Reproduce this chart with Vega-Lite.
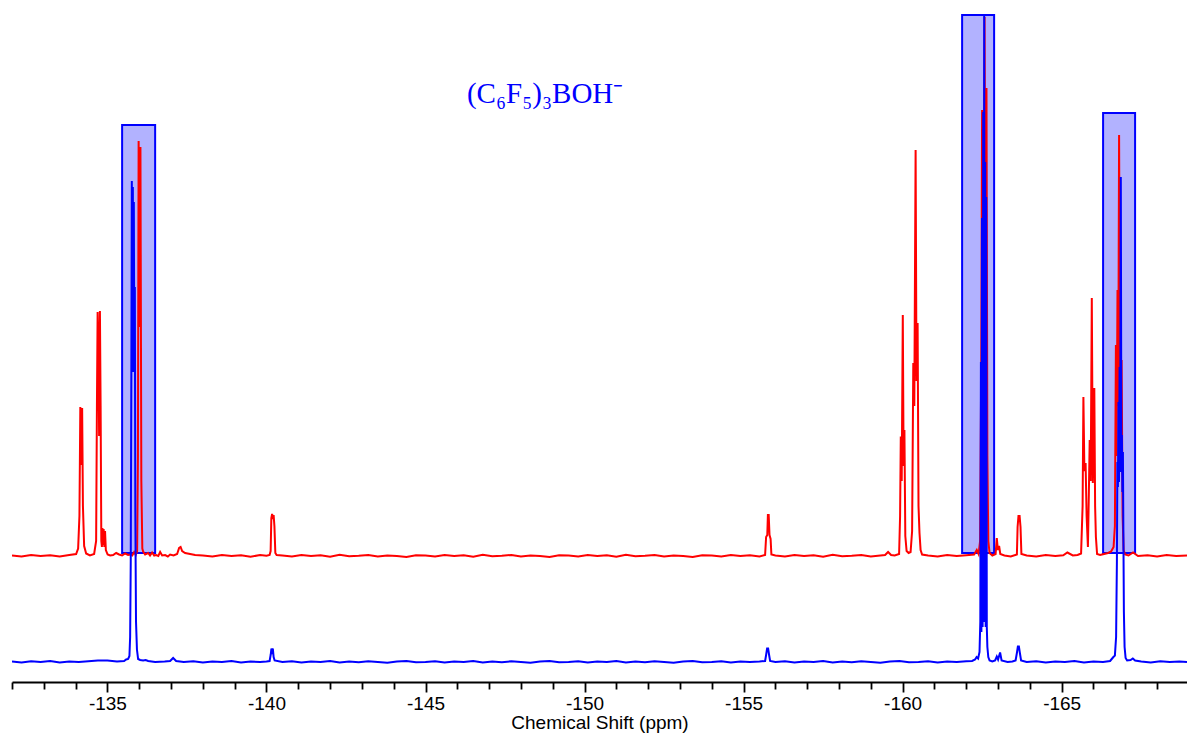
{
  "$schema": "https://vega.github.io/schema/vega-lite/v6.json",
  "width": 1175,
  "height": 682,
  "autosize": {"type": "none"},
  "padding": {"left": 12, "top": 0, "right": 0, "bottom": 58},
  "background": "white",
  "config": {"view": {"stroke": null}, "font": "Liberation Sans"},
  "datasets": {
    "boxes": [
      {"x1": -135.462, "x2": -136.5, "y1": 0.6, "y2": 86.2},
      {"x1": -161.87, "x2": -162.876, "y1": 0.6, "y2": 108.2},
      {"x1": -166.302, "x2": -167.308, "y1": 0.6, "y2": 88.6}
    ],
    "note": [
      {"ppm": -148.76, "v": 90.6, "label": "(C₆F₅)₃BOH⁻"}
    ],
    "red": [
      {"ppm": -132.0, "v": 0.1}, {"ppm": -132.3, "v": -0.1}, {"ppm": -132.6, "v": 0.2}, {"ppm": -132.9, "v": 0.0},
      {"ppm": -133.2, "v": 0.15}, {"ppm": -133.5, "v": -0.1}, {"ppm": -133.8, "v": 0.2},
      {"ppm": -134.016, "v": 0.4}, {"ppm": -134.079, "v": 1.5}, {"ppm": -134.12, "v": 8}, {"ppm": -134.148, "v": 29.8},
      {"ppm": -134.17, "v": 22}, {"ppm": -134.18, "v": 18.2}, {"ppm": -134.192, "v": 25}, {"ppm": -134.205, "v": 29.6},
      {"ppm": -134.23, "v": 10}, {"ppm": -134.268, "v": 2}, {"ppm": -134.331, "v": 0.5}, {"ppm": -134.45, "v": 0.1},
      {"ppm": -134.582, "v": 0.4}, {"ppm": -134.645, "v": 3}, {"ppm": -134.67, "v": 30}, {"ppm": -134.692, "v": 48.8},
      {"ppm": -134.72, "v": 40}, {"ppm": -134.739, "v": 24}, {"ppm": -134.764, "v": 49}, {"ppm": -134.786, "v": 30},
      {"ppm": -134.808, "v": 3}, {"ppm": -134.827, "v": 1.8}, {"ppm": -134.843, "v": 5.6}, {"ppm": -134.859, "v": 2.2},
      {"ppm": -134.881, "v": 5.4}, {"ppm": -134.903, "v": 1.8}, {"ppm": -134.925, "v": 5.0}, {"ppm": -134.95, "v": 1.2},
      {"ppm": -135.007, "v": 0.3}, {"ppm": -135.085, "v": 0.1}, {"ppm": -135.179, "v": 0.2}, {"ppm": -135.274, "v": 0.6},
      {"ppm": -135.368, "v": 0.3}, {"ppm": -135.462, "v": 0.1}, {"ppm": -135.557, "v": 0.5}, {"ppm": -135.65, "v": 0.2},
      {"ppm": -135.714, "v": 0.3}, {"ppm": -135.78, "v": 0.1}, {"ppm": -135.84, "v": 0.8}, {"ppm": -135.89, "v": 0.2},
      {"ppm": -135.934, "v": 1.0}, {"ppm": -135.959, "v": 20}, {"ppm": -135.981, "v": 83}, {"ppm": -136.006, "v": 45.8},
      {"ppm": -136.038, "v": 81.8}, {"ppm": -136.066, "v": 15}, {"ppm": -136.097, "v": 1.5}, {"ppm": -136.123, "v": 0.9},
      {"ppm": -136.185, "v": 0.3}, {"ppm": -136.28, "v": 0.6}, {"ppm": -136.34, "v": 0.1}, {"ppm": -136.405, "v": 0.7},
      {"ppm": -136.47, "v": 0.1}, {"ppm": -136.531, "v": 0.2}, {"ppm": -136.6, "v": 0.0}, {"ppm": -136.657, "v": 0.8},
      {"ppm": -136.72, "v": 0.1}, {"ppm": -136.814, "v": 0.2}, {"ppm": -136.9, "v": -0.1}, {"ppm": -136.971, "v": 0.3},
      {"ppm": -137.08, "v": 0.1}, {"ppm": -137.191, "v": 0.4}, {"ppm": -137.254, "v": 1.6}, {"ppm": -137.301, "v": 1.8},
      {"ppm": -137.349, "v": 1.0}, {"ppm": -137.443, "v": 0.6}, {"ppm": -137.6, "v": 0.4}, {"ppm": -137.757, "v": 0.2},
      {"ppm": -138.0, "v": 0.1}, {"ppm": -138.3, "v": -0.1}, {"ppm": -138.6, "v": 0.2}, {"ppm": -138.9, "v": 0.0},
      {"ppm": -139.2, "v": 0.15}, {"ppm": -139.5, "v": -0.15}, {"ppm": -139.8, "v": 0.2}, {"ppm": -140.0, "v": 0.05},
      {"ppm": -140.099, "v": 0.2}, {"ppm": -140.131, "v": 1}, {"ppm": -140.153, "v": 7.6}, {"ppm": -140.178, "v": 8.4},
      {"ppm": -140.203, "v": 7.4}, {"ppm": -140.225, "v": 8.2}, {"ppm": -140.25, "v": 6}, {"ppm": -140.279, "v": 0.6},
      {"ppm": -140.319, "v": 0.2},
      {"ppm": -140.5, "v": 0.1}, {"ppm": -140.8, "v": -0.1}, {"ppm": -141.1, "v": 0.2}, {"ppm": -141.4, "v": 0.0},
      {"ppm": -141.7, "v": 0.15}, {"ppm": -142.0, "v": -0.15}, {"ppm": -142.3, "v": 0.25}, {"ppm": -142.6, "v": -0.05},
      {"ppm": -142.9, "v": 0.05}, {"ppm": -143.2, "v": 0.2}, {"ppm": -143.5, "v": -0.1}, {"ppm": -143.8, "v": 0.1},
      {"ppm": -144.1, "v": 0.0}, {"ppm": -144.4, "v": -0.2}, {"ppm": -144.7, "v": 0.15}, {"ppm": -145.0, "v": 0.1},
      {"ppm": -145.3, "v": -0.1}, {"ppm": -145.6, "v": 0.2}, {"ppm": -145.9, "v": 0.0}, {"ppm": -146.2, "v": 0.15},
      {"ppm": -146.5, "v": -0.15}, {"ppm": -146.8, "v": 0.25}, {"ppm": -147.1, "v": -0.05}, {"ppm": -147.4, "v": 0.05},
      {"ppm": -147.7, "v": 0.2}, {"ppm": -148.0, "v": -0.1}, {"ppm": -148.3, "v": 0.1}, {"ppm": -148.6, "v": 0.0},
      {"ppm": -148.9, "v": -0.2}, {"ppm": -149.2, "v": 0.15}, {"ppm": -149.5, "v": 0.1}, {"ppm": -149.8, "v": -0.1},
      {"ppm": -150.1, "v": 0.2}, {"ppm": -150.4, "v": 0.0}, {"ppm": -150.7, "v": 0.15}, {"ppm": -151.0, "v": -0.15},
      {"ppm": -151.3, "v": 0.25}, {"ppm": -151.6, "v": -0.05}, {"ppm": -151.9, "v": 0.05}, {"ppm": -152.2, "v": 0.2},
      {"ppm": -152.5, "v": -0.1}, {"ppm": -152.8, "v": 0.1}, {"ppm": -153.1, "v": 0.0}, {"ppm": -153.4, "v": -0.2},
      {"ppm": -153.7, "v": 0.15}, {"ppm": -154.0, "v": 0.1}, {"ppm": -154.3, "v": -0.1}, {"ppm": -154.6, "v": 0.2},
      {"ppm": -154.9, "v": 0.0}, {"ppm": -155.2, "v": 0.15}, {"ppm": -155.5, "v": -0.1},
      {"ppm": -155.676, "v": 0.2}, {"ppm": -155.708, "v": 3.8}, {"ppm": -155.745, "v": 4.2}, {"ppm": -155.764, "v": 8.2},
      {"ppm": -155.789, "v": 8.2}, {"ppm": -155.815, "v": 4.2}, {"ppm": -155.849, "v": 3.4}, {"ppm": -155.874, "v": 0.3},
      {"ppm": -156.0, "v": 0.1}, {"ppm": -156.3, "v": -0.1}, {"ppm": -156.6, "v": 0.2}, {"ppm": -156.9, "v": 0.0},
      {"ppm": -157.2, "v": 0.15}, {"ppm": -157.5, "v": -0.15}, {"ppm": -157.8, "v": 0.25}, {"ppm": -158.1, "v": -0.05},
      {"ppm": -158.4, "v": 0.05}, {"ppm": -158.7, "v": 0.2}, {"ppm": -159.0, "v": -0.1}, {"ppm": -159.3, "v": 0.1},
      {"ppm": -159.449, "v": 0.2}, {"ppm": -159.543, "v": 0.8}, {"ppm": -159.637, "v": 0.2}, {"ppm": -159.75, "v": 0.1},
      {"ppm": -159.889, "v": 0.4}, {"ppm": -159.92, "v": 8}, {"ppm": -159.942, "v": 23.9}, {"ppm": -159.971, "v": 15},
      {"ppm": -160.005, "v": 48.2}, {"ppm": -160.031, "v": 18}, {"ppm": -160.056, "v": 25.2}, {"ppm": -160.084, "v": 4},
      {"ppm": -160.125, "v": 1.0}, {"ppm": -160.188, "v": 0.6}, {"ppm": -160.25, "v": 0.8}, {"ppm": -160.298, "v": 5},
      {"ppm": -160.335, "v": 38.6}, {"ppm": -160.367, "v": 30}, {"ppm": -160.408, "v": 81.2}, {"ppm": -160.436, "v": 35},
      {"ppm": -160.471, "v": 46.6}, {"ppm": -160.499, "v": 10}, {"ppm": -160.53, "v": 4.6}, {"ppm": -160.565, "v": 1.2},
      {"ppm": -160.612, "v": 0.3},
      {"ppm": -160.8, "v": 0.1}, {"ppm": -161.1, "v": -0.1}, {"ppm": -161.4, "v": 0.2}, {"ppm": -161.7, "v": 0.0},
      {"ppm": -162.0, "v": 0.15}, {"ppm": -162.247, "v": 0.3}, {"ppm": -162.331, "v": 1.2},
      {"ppm": -162.388, "v": 0.4}, {"ppm": -162.435, "v": 3}, {"ppm": -162.473, "v": 40}, {"ppm": -162.498, "v": 89.2},
      {"ppm": -162.523, "v": 40}, {"ppm": -162.548, "v": 50}, {"ppm": -162.576, "v": 107.8}, {"ppm": -162.601, "v": 60},
      {"ppm": -162.636, "v": 93.6}, {"ppm": -162.664, "v": 20}, {"ppm": -162.693, "v": 3}, {"ppm": -162.734, "v": 0.6},
      {"ppm": -162.82, "v": 0.1},
      {"ppm": -162.923, "v": 0.4}, {"ppm": -162.96, "v": 3.6}, {"ppm": -162.995, "v": 1.2}, {"ppm": -163.033, "v": 2},
      {"ppm": -163.07, "v": 0.4}, {"ppm": -163.2, "v": 0.1}, {"ppm": -163.4, "v": -0.1},
      {"ppm": -163.592, "v": 0.3}, {"ppm": -163.614, "v": 5.8}, {"ppm": -163.642, "v": 8}, {"ppm": -163.677, "v": 8},
      {"ppm": -163.706, "v": 5.8}, {"ppm": -163.734, "v": 0.4},
      {"ppm": -163.9, "v": 0.1}, {"ppm": -164.2, "v": -0.1}, {"ppm": -164.5, "v": 0.2}, {"ppm": -164.8, "v": 0.0},
      {"ppm": -165.05, "v": 0.15}, {"ppm": -165.179, "v": 0.7}, {"ppm": -165.35, "v": 0.1}, {"ppm": -165.5, "v": 0.2},
      {"ppm": -165.61, "v": 0.5}, {"ppm": -165.658, "v": 10}, {"ppm": -165.683, "v": 31.8}, {"ppm": -165.714, "v": 17},
      {"ppm": -165.752, "v": 18.6}, {"ppm": -165.784, "v": 8}, {"ppm": -165.825, "v": 1.8}, {"ppm": -165.853, "v": 12},
      {"ppm": -165.881, "v": 23.2}, {"ppm": -165.913, "v": 15}, {"ppm": -165.947, "v": 51.6}, {"ppm": -165.979, "v": 14.6},
      {"ppm": -166.004, "v": 25}, {"ppm": -166.026, "v": 33.6}, {"ppm": -166.051, "v": 10}, {"ppm": -166.076, "v": 3.8},
      {"ppm": -166.113, "v": 0.4},
      {"ppm": -166.208, "v": 0.2}, {"ppm": -166.333, "v": 0.4}, {"ppm": -166.459, "v": 0.6}, {"ppm": -166.554, "v": 0.9},
      {"ppm": -166.632, "v": 1.8}, {"ppm": -166.673, "v": 6}, {"ppm": -166.705, "v": 42.2}, {"ppm": -166.727, "v": 20},
      {"ppm": -166.755, "v": 53.2}, {"ppm": -166.777, "v": 30}, {"ppm": -166.805, "v": 84.2}, {"ppm": -166.83, "v": 40},
      {"ppm": -166.852, "v": 35}, {"ppm": -166.884, "v": 39.2}, {"ppm": -166.916, "v": 8}, {"ppm": -166.947, "v": 1.2},
      {"ppm": -166.994, "v": 0.3}, {"ppm": -167.1, "v": 0.1}, {"ppm": -167.245, "v": 0.7},
      {"ppm": -167.4, "v": 0.0}, {"ppm": -167.7, "v": 0.15}, {"ppm": -168.0, "v": -0.1}, {"ppm": -168.3, "v": 0.2},
      {"ppm": -168.6, "v": 0.0}, {"ppm": -168.94, "v": 0.1}
    ],
    "blue": [
      {"ppm": -132.0, "v": 0.1}, {"ppm": -132.3, "v": -0.1}, {"ppm": -132.6, "v": 0.15}, {"ppm": -132.9, "v": 0.0},
      {"ppm": -133.2, "v": 0.2}, {"ppm": -133.5, "v": -0.1}, {"ppm": -133.8, "v": 0.1}, {"ppm": -134.1, "v": 0.0},
      {"ppm": -134.4, "v": 0.15}, {"ppm": -134.7, "v": 0.3}, {"ppm": -135.0, "v": 0.3}, {"ppm": -135.3, "v": 0.1},
      {"ppm": -135.525, "v": 0.2}, {"ppm": -135.588, "v": 0.5}, {"ppm": -135.651, "v": 0.6}, {"ppm": -135.692, "v": 1.2},
      {"ppm": -135.714, "v": 5}, {"ppm": -135.733, "v": 20}, {"ppm": -135.752, "v": 58}, {"ppm": -135.767, "v": 96.2},
      {"ppm": -135.783, "v": 58}, {"ppm": -135.799, "v": 95}, {"ppm": -135.814, "v": 58}, {"ppm": -135.83, "v": 92},
      {"ppm": -135.846, "v": 58}, {"ppm": -135.862, "v": 75}, {"ppm": -135.877, "v": 30}, {"ppm": -135.899, "v": 8},
      {"ppm": -135.928, "v": 2.5}, {"ppm": -135.965, "v": 0.6}, {"ppm": -136.028, "v": 0.4}, {"ppm": -136.123, "v": 0.3},
      {"ppm": -136.201, "v": 0.4}, {"ppm": -136.28, "v": 0.2}, {"ppm": -136.5, "v": 0.0}, {"ppm": -136.8, "v": 0.1},
      {"ppm": -136.971, "v": 0.2}, {"ppm": -137.066, "v": 0.8}, {"ppm": -137.16, "v": 0.2},
      {"ppm": -137.4, "v": 0.0}, {"ppm": -137.7, "v": 0.15}, {"ppm": -138.0, "v": -0.1}, {"ppm": -138.3, "v": 0.1},
      {"ppm": -138.6, "v": 0.0}, {"ppm": -138.9, "v": 0.2}, {"ppm": -139.2, "v": -0.1}, {"ppm": -139.5, "v": 0.1},
      {"ppm": -139.8, "v": 0.0}, {"ppm": -140.0, "v": 0.1},
      {"ppm": -140.099, "v": 0.2}, {"ppm": -140.134, "v": 1.5}, {"ppm": -140.156, "v": 2.7}, {"ppm": -140.178, "v": 1.6},
      {"ppm": -140.2, "v": 2.7}, {"ppm": -140.225, "v": 1}, {"ppm": -140.257, "v": 0.3},
      {"ppm": -140.5, "v": 0.0}, {"ppm": -140.8, "v": 0.15}, {"ppm": -141.1, "v": -0.1}, {"ppm": -141.4, "v": 0.1},
      {"ppm": -141.7, "v": 0.0}, {"ppm": -142.0, "v": 0.2}, {"ppm": -142.3, "v": -0.1}, {"ppm": -142.6, "v": 0.1},
      {"ppm": -142.9, "v": -0.05}, {"ppm": -143.2, "v": 0.15}, {"ppm": -143.5, "v": 0.0}, {"ppm": -143.8, "v": -0.15},
      {"ppm": -144.1, "v": 0.1}, {"ppm": -144.4, "v": 0.2}, {"ppm": -144.7, "v": -0.05}, {"ppm": -145.0, "v": 0.0},
      {"ppm": -145.3, "v": 0.15}, {"ppm": -145.6, "v": -0.1}, {"ppm": -145.9, "v": 0.1}, {"ppm": -146.2, "v": 0.0},
      {"ppm": -146.5, "v": 0.2}, {"ppm": -146.8, "v": -0.1}, {"ppm": -147.1, "v": 0.1}, {"ppm": -147.4, "v": -0.05},
      {"ppm": -147.7, "v": 0.15}, {"ppm": -148.0, "v": 0.0}, {"ppm": -148.3, "v": -0.15}, {"ppm": -148.6, "v": 0.1},
      {"ppm": -148.9, "v": 0.2}, {"ppm": -149.2, "v": -0.05}, {"ppm": -149.5, "v": 0.0}, {"ppm": -149.8, "v": 0.15},
      {"ppm": -150.1, "v": -0.1}, {"ppm": -150.4, "v": 0.1}, {"ppm": -150.7, "v": 0.0}, {"ppm": -151.0, "v": 0.2},
      {"ppm": -151.3, "v": -0.1}, {"ppm": -151.6, "v": 0.1}, {"ppm": -151.9, "v": -0.05}, {"ppm": -152.2, "v": 0.15},
      {"ppm": -152.5, "v": 0.0}, {"ppm": -152.8, "v": -0.15}, {"ppm": -153.1, "v": 0.1}, {"ppm": -153.4, "v": 0.2},
      {"ppm": -153.7, "v": -0.05}, {"ppm": -154.0, "v": 0.0}, {"ppm": -154.3, "v": 0.15}, {"ppm": -154.6, "v": -0.1},
      {"ppm": -154.9, "v": 0.1}, {"ppm": -155.2, "v": 0.0}, {"ppm": -155.5, "v": 0.1},
      {"ppm": -155.676, "v": 0.2}, {"ppm": -155.708, "v": 1.4}, {"ppm": -155.739, "v": 2.7}, {"ppm": -155.771, "v": 2.7},
      {"ppm": -155.802, "v": 1.4}, {"ppm": -155.834, "v": 0.2},
      {"ppm": -156.0, "v": 0.0}, {"ppm": -156.3, "v": 0.15}, {"ppm": -156.6, "v": -0.1}, {"ppm": -156.9, "v": 0.1},
      {"ppm": -157.2, "v": 0.0}, {"ppm": -157.5, "v": 0.2}, {"ppm": -157.8, "v": -0.1}, {"ppm": -158.1, "v": 0.1},
      {"ppm": -158.4, "v": -0.05}, {"ppm": -158.7, "v": 0.15}, {"ppm": -159.0, "v": 0.0}, {"ppm": -159.3, "v": -0.15},
      {"ppm": -159.6, "v": 0.1}, {"ppm": -159.9, "v": 0.2}, {"ppm": -160.2, "v": -0.05}, {"ppm": -160.5, "v": 0.0},
      {"ppm": -160.8, "v": 0.15}, {"ppm": -161.1, "v": -0.1}, {"ppm": -161.4, "v": 0.1}, {"ppm": -161.7, "v": 0.0},
      {"ppm": -162.0, "v": 0.15},
      {"ppm": -162.184, "v": 0.2}, {"ppm": -162.278, "v": 0.5}, {"ppm": -162.325, "v": 1.0}, {"ppm": -162.373, "v": 0.7},
      {"ppm": -162.417, "v": 2}, {"ppm": -162.442, "v": 8}, {"ppm": -162.461, "v": 60}, {"ppm": -162.476, "v": 6},
      {"ppm": -162.495, "v": 88.8}, {"ppm": -162.514, "v": 7}, {"ppm": -162.533, "v": 110}, {"ppm": -162.549, "v": 8},
      {"ppm": -162.564, "v": 129.4}, {"ppm": -162.58, "v": 8}, {"ppm": -162.596, "v": 100}, {"ppm": -162.611, "v": 7},
      {"ppm": -162.627, "v": 93}, {"ppm": -162.646, "v": 7}, {"ppm": -162.664, "v": 3}, {"ppm": -162.693, "v": 1},
      {"ppm": -162.734, "v": 0.3}, {"ppm": -162.82, "v": 0.1},
      {"ppm": -162.907, "v": 0.3}, {"ppm": -162.96, "v": 1.1}, {"ppm": -163.001, "v": 0.5}, {"ppm": -163.064, "v": 1.9},
      {"ppm": -163.111, "v": 0.3}, {"ppm": -163.3, "v": 0.0}, {"ppm": -163.45, "v": 0.1},
      {"ppm": -163.551, "v": 0.3}, {"ppm": -163.592, "v": 1.8}, {"ppm": -163.623, "v": 3.1}, {"ppm": -163.655, "v": 3.1},
      {"ppm": -163.686, "v": 1.8}, {"ppm": -163.724, "v": 0.3},
      {"ppm": -163.9, "v": 0.0}, {"ppm": -164.2, "v": 0.15}, {"ppm": -164.5, "v": -0.1}, {"ppm": -164.8, "v": 0.1},
      {"ppm": -165.1, "v": 0.0}, {"ppm": -165.4, "v": 0.2}, {"ppm": -165.7, "v": -0.1}, {"ppm": -166.0, "v": 0.1},
      {"ppm": -166.3, "v": 0.0},
      {"ppm": -166.522, "v": 0.2}, {"ppm": -166.626, "v": 1}, {"ppm": -166.673, "v": 1.3}, {"ppm": -166.711, "v": 5},
      {"ppm": -166.736, "v": 20}, {"ppm": -166.752, "v": 40}, {"ppm": -166.768, "v": 35}, {"ppm": -166.786, "v": 52},
      {"ppm": -166.802, "v": 36}, {"ppm": -166.821, "v": 59}, {"ppm": -166.84, "v": 38}, {"ppm": -166.859, "v": 97},
      {"ppm": -166.878, "v": 38}, {"ppm": -166.893, "v": 45.4}, {"ppm": -166.909, "v": 34}, {"ppm": -166.925, "v": 42},
      {"ppm": -166.941, "v": 25}, {"ppm": -166.956, "v": 10}, {"ppm": -166.978, "v": 3}, {"ppm": -167.01, "v": 0.8},
      {"ppm": -167.057, "v": 0.3}, {"ppm": -167.166, "v": 0.4}, {"ppm": -167.236, "v": 0.7}, {"ppm": -167.308, "v": 0.3},
      {"ppm": -167.5, "v": 0.1}, {"ppm": -167.8, "v": -0.1}, {"ppm": -168.1, "v": 0.15}, {"ppm": -168.4, "v": 0.0},
      {"ppm": -168.7, "v": 0.1}, {"ppm": -168.94, "v": 0.0}
    ]
  },
  "layer": [
    {
      "data": {"name": "boxes"},
      "mark": {"type": "rect", "fill": "#0000ff", "fillOpacity": 0.3, "stroke": "#0000ff", "strokeWidth": 2},
      "encoding": {
        "x": {
          "field": "x1", "type": "quantitative",
          "scale": {"domain": [-168.94, -132], "reverse": true, "nice": false, "zero": false},
          "axis": {
            "orient": "bottom",
            "values": [-132, -133, -134, -136, -137, -138, -139, -141, -142, -143, -144, -146, -147, -148, -149, -151, -152, -153, -154, -156, -157, -158, -159, -161, -162, -163, -164, -166, -167, -168],
            "labels": false,
            "domain": false,
            "grid": false,
            "tickSize": 7,
            "tickColor": "black",
            "tickWidth": 1.8,
            "title": null
          }
        },
        "x2": {"field": "x2"},
        "y": {"field": "y2", "type": "quantitative", "scale": {"domain": [-25.2, 111.2], "nice": false, "zero": false}, "axis": null},
        "y2": {"field": "y1"}
      }
    },
    {
      "data": {"name": "red"},
      "mark": {"type": "line", "color": "#ff0000", "strokeWidth": 2, "clip": true},
      "encoding": {
        "x": {
          "field": "ppm", "type": "quantitative",
          "scale": {"domain": [-168.94, -132], "reverse": true, "nice": false, "zero": false},
          "axis": {
            "orient": "bottom",
            "values": [-135, -140, -145, -150, -155, -160, -165],
            "labelExpr": "'' + datum.value",
            "tickSize": 10,
            "tickColor": "black",
            "tickWidth": 1.8,
            "domainColor": "black",
            "domainWidth": 2,
            "grid": false,
            "labelFont": "Liberation Sans",
            "labelFontSize": 19,
            "labelColor": "black",
            "labelPadding": 2,
            "labelFlush": false,
            "labelOverlap": false,
            "title": "Chemical Shift (ppm)",
            "titleFont": "Liberation Sans",
            "titleFontSize": 19,
            "titleFontWeight": "normal",
            "titleColor": "black",
            "titlePadding": 0
          }
        },
        "y": {"field": "v", "type": "quantitative", "scale": {"domain": [-25.2, 111.2], "nice": false, "zero": false}, "axis": null}
      }
    },
    {
      "data": {"name": "blue"},
      "mark": {"type": "line", "color": "#0000ff", "strokeWidth": 2, "clip": true},
      "encoding": {
        "x": {"field": "ppm", "type": "quantitative", "scale": {"domain": [-168.94, -132], "reverse": true, "nice": false, "zero": false}, "axis": null},
        "y": {"field": "v", "type": "quantitative", "scale": {"domain": [-4, 132.4], "nice": false, "zero": false}, "axis": null}
      }
    },
    {
      "data": {"name": "note"},
      "mark": {"type": "text", "font": "Liberation Serif", "fontSize": 29, "color": "#0000ff", "align": "center", "baseline": "alphabetic"},
      "encoding": {
        "x": {"field": "ppm", "type": "quantitative", "scale": {"domain": [-168.94, -132], "reverse": true, "nice": false, "zero": false}, "axis": null},
        "y": {"field": "v", "type": "quantitative", "scale": {"domain": [-25.2, 111.2], "nice": false, "zero": false}, "axis": null},
        "text": {"field": "label"}
      }
    }
  ],
  "resolve": {"scale": {"y": "independent"}, "axis": {"x": "independent"}}
}
